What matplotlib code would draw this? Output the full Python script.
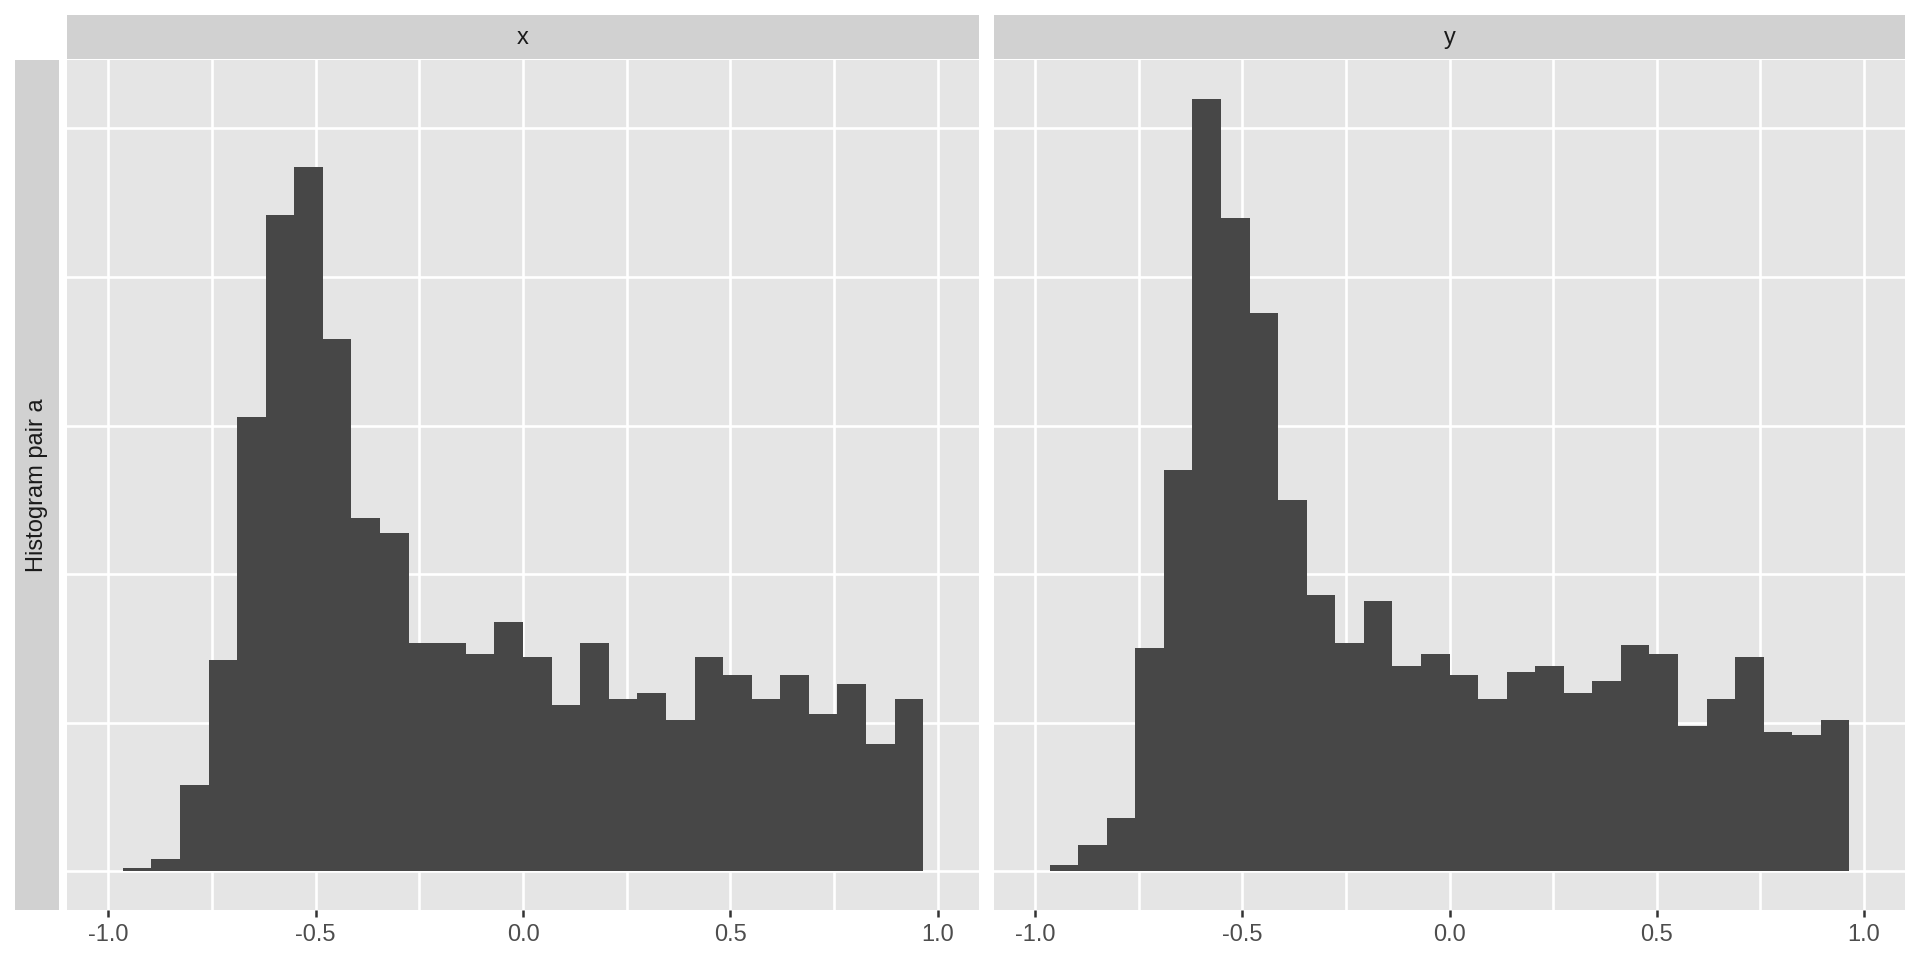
import numpy as np
import matplotlib
matplotlib.use("Agg")
import matplotlib.pyplot as plt

plt.rcParams["font.family"] = ["Liberation Sans", "DejaVu Sans"]

# histogram counts per bin (28 filled bins of width 2/29)
facets = ["x", "y"]
counts_x = [1, 4, 29, 71, 153, 221, 237, 179, 119, 114, 77, 77, 73, 84,
            72, 56, 77, 58, 60, 51, 72, 66, 58, 66, 53, 63, 43, 58]
counts_y = [2, 9, 18, 75, 135, 260, 220, 188, 125, 93, 77, 91, 69, 73,
            66, 58, 67, 69, 60, 64, 76, 73, 49, 58, 72, 47, 46, 51]
row_label = "Histogram pair a"
x_ticks = [-1.0, -0.5, 0.0, 0.5, 1.0]
x_tick_labels = ["-1.0", "-0.5", "0.0", "0.5", "1.0"]

binwidth = 2 / 29
edges = -1 - binwidth / 2 + binwidth * np.arange(1, 30)

W, H = 1920, 960
fig = plt.figure(figsize=(19.2, 9.6), dpi=100)

panel_bg = "#E5E5E5"
strip_bg = "#D1D1D1"
bar_col = "#474747"

panels = [(67, 979), (994, 1905)]
top, bottom = 60, 910

for (x0, x1), name, counts in zip(panels, facets, [counts_x, counts_y]):
    ax = fig.add_axes([x0 / W, 1 - bottom / H, (x1 - x0) / W, (bottom - top) / H])
    ax.set_facecolor(panel_bg)
    ax.bar(edges[:-1], counts, width=binwidth, align="edge", color=bar_col,
           linewidth=0, zorder=2)
    ymax = max(max(counts_x), max(counts_y))
    ax.set_xlim(-1.1, 1.1)
    ax.set_ylim(-0.05 * ymax, 1.05 * ymax)
    ax.set_xticks(x_ticks)
    ax.set_xticklabels(x_tick_labels)
    ax.set_xticks([-0.75, -0.25, 0.25, 0.75], minor=True)
    ax.set_yticks(np.arange(0, 251, 50))
    ax.set_yticklabels([])
    ax.grid(True, which="both", color="white", linewidth=1.9, zorder=1)
    ax.set_axisbelow(True)
    ax.tick_params(axis="y", length=0)
    ax.tick_params(axis="x", which="major", length=5, width=1.8, color="#333333",
                   labelsize=17, labelcolor="#4D4D4D", pad=5)
    ax.tick_params(axis="x", which="minor", length=0)
    for s in ax.spines.values():
        s.set_visible(False)

    sax = fig.add_axes([x0 / W, 1 - 59 / H, (x1 - x0) / W, 44 / H])
    sax.set_facecolor(strip_bg)
    sax.set_xticks([])
    sax.set_yticks([])
    for s in sax.spines.values():
        s.set_visible(False)
    sax.text(0.5, 0.47, name, ha="center", va="center", fontsize=17,
             color="#1A1A1A", transform=sax.transAxes)

rax = fig.add_axes([15 / W, 1 - bottom / H, 44 / W, (bottom - top) / H])
rax.set_facecolor(strip_bg)
rax.set_xticks([])
rax.set_yticks([])
for s in rax.spines.values():
    s.set_visible(False)
rax.text(0.5, 0.5, row_label, ha="center", va="center", rotation=90,
         fontsize=17, color="#1A1A1A", transform=rax.transAxes)

fig.savefig("out.png", dpi=100, facecolor="white")
